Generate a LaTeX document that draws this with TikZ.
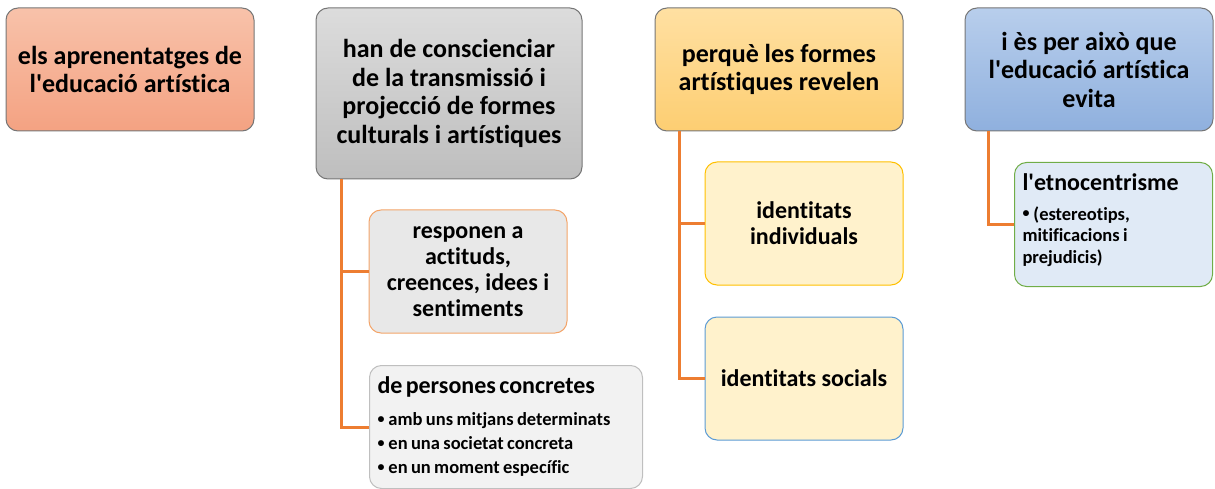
\documentclass[tikz,border=0pt]{standalone}
\usepackage{fontspec}
\setmainfont{Carlito}[Ligatures={TeXOff,NoCommon}]
\usetikzlibrary{calc}

\definecolor{linkorange}{HTML}{ED7D31}
\definecolor{edgegray}{HTML}{767676}
\definecolor{salmontop}{HTML}{F8C2AA}
\definecolor{salmonbot}{HTML}{F4A282}
\definecolor{graytop}{HTML}{DCDCDC}
\definecolor{graybot}{HTML}{BEBEBE}
\definecolor{goldtop}{HTML}{FFE0A2}
\definecolor{goldbot}{HTML}{FDCE72}
\definecolor{bluetop}{HTML}{B8CEEC}
\definecolor{bluebot}{HTML}{8FB0DE}
\definecolor{orangeedge}{HTML}{F3A469}
\definecolor{lightgray}{HTML}{E8E8E8}
\definecolor{palegray}{HTML}{F2F2F2}
\definecolor{silveredge}{HTML}{BFBFBF}
\definecolor{amber}{HTML}{FFC000}
\definecolor{cream}{HTML}{FFF2CC}
\definecolor{skyedge}{HTML}{5B9BD5}
\definecolor{greenedge}{HTML}{70AD47}
\definecolor{paleblue}{HTML}{E0EAF6}
\tikzset{
  topbox/.style={draw=edgegray, line width=1pt, rounded corners=12pt, align=center,
    inner sep=4pt, font=\fontsize{26}{28.5}\selectfont\bfseries},
  subbox/.style={line width=1pt, rounded corners=12pt, align=center,
    minimum width=198pt, minimum height=123pt, inner sep=4pt,
    font=\fontsize{24}{26}\selectfont\bfseries},
  listbox/.style={line width=1pt, rounded corners=12pt, align=left,
    inner sep=8pt, anchor=north west, font=\bfseries},
  link/.style={draw=linkorange, line width=3pt},
}
\newcommand{\headfont}{\fontsize{24}{26}\selectfont}
\newcommand{\dotmark}{\raisebox{2.5pt}{\fontsize{14}{14}\selectfont•}\hspace{4pt}}

\begin{document}
\begin{tikzpicture}[x=1pt, y=-1pt]
  \useasboundingbox (0,0) rectangle (1215,489);

  \node[topbox, top color=salmontop, bottom color=salmonbot,
        minimum width=248pt, minimum height=123pt] (aprenen) at (130,69.5)
        {els aprenentatges de\\l'educació artística};
  \node[topbox, top color=graytop, bottom color=graybot,
        minimum width=266pt, minimum height=171pt] (conscien) at (449,93.5)
        {han de conscienciar\\de la transmissió i\\projecció de formes\\culturals i artístiques};
  \node[topbox, top color=goldtop, bottom color=goldbot,
        minimum width=248pt, minimum height=123pt] (revelen) at (779,69.5)
        {perquè les formes\\artístiques revelen};
  \node[topbox, top color=bluetop, bottom color=bluebot,
        minimum width=248pt, minimum height=123pt] (evita) at (1089,69.5)
        {i ès per això que\\l'educació artística\\evita};

  \node[subbox, draw=orangeedge, fill=lightgray] (actituds) at (468,271.5)
        {responen a\\actituds,\\creences, idees i\\sentiments};
  \node[listbox, draw=silveredge, fill=palegray, text width=257pt,
        minimum width=273pt, minimum height=123pt] (persones) at (369,365)
        {\headfont de persones concretes\par\vspace{8pt}
         \fontsize{18.5}{24}\selectfont \dotmark amb uns mitjans determinats\par
         \dotmark en una societat concreta\par \dotmark en un moment específic\par};
  \node[subbox, draw=amber, fill=cream] (individ) at (804,223.5)
        {identitats\\individuals};
  \node[subbox, draw=skyedge, fill=cream] (socials) at (804,378.5)
        {identitats socials};
  \node[listbox, draw=greenedge, fill=paleblue, text width=182pt,
        minimum width=198pt, minimum height=124pt] (etno) at (1014,162)
        {\headfont l'etnocentrisme\par\vspace{8pt}
         \fontsize{18.5}{21.5}\selectfont
         \hangindent=12pt\hangafter=1
         \dotmark(estereotips,\\mitificacions i\\prejudicis)\par
         \rule{0pt}{8pt}};

  \coordinate (b) at ($(conscien.south west)+(26,0)$);
  \coordinate (c) at ($(revelen.south west)+(25,0)$);
  \coordinate (d) at ($(evita.south west)+(24,0)$);
  \draw[link] (b) |- (actituds.west);
  \draw[link] (b) |- (persones.west);
  \draw[link] (c) |- (individ.west);
  \draw[link] (c) |- (socials.west);
  \draw[link] (d) |- (etno.west);
\end{tikzpicture}
\end{document}
